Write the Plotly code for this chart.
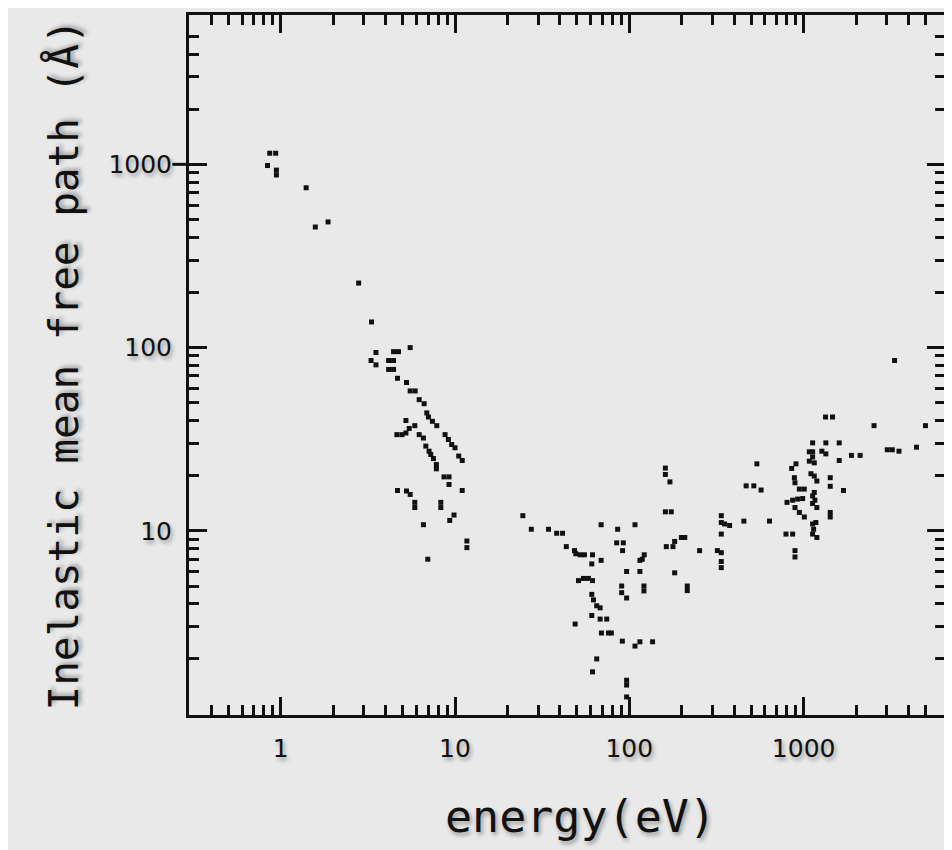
import plotly.graph_objects as go

# ---- data (energy in eV, IMFP in Angstrom) ----
energy_ev = [
    0.865, 0.936, 0.84, 0.945, 0.945, 1.40, 1.58, 1.87, 2.80, 3.32,
    3.52, 4.44, 4.74, 5.53, 3.30, 3.52, 4.16, 4.44, 4.16, 4.44,
    4.68, 5.27, 5.53, 5.91, 6.23, 6.65, 6.89, 7.04, 7.42, 7.86,
    5.23, 5.88, 5.46, 4.64, 4.96, 5.23, 6.23, 6.59, 6.80, 7.10,
    7.26, 7.52, 7.82, 7.82, 8.77, 9.16, 9.57, 10.0, 10.5, 11.0,
    8.65, 9.24, 9.24, 11.0, 4.68, 5.27, 5.53, 5.88, 5.88, 8.29,
    8.29, 9.87, 9.33, 6.59, 11.7, 11.7, 6.98,
    24.5, 27.4, 34.4, 38.3, 41.4, 43.5, 48.5, 49.3, 52.3, 55.3,
    61.5, 60.9, 68.9, 51.1, 54.6, 58.3, 61.5, 60.9, 62.3, 65.0,
    68.0, 60.9, 68.0, 74.2, 48.9, 69.2, 75.9, 78.9, 65.0, 61.5,
    96.5, 96.5, 96.5, 68.9, 85.7, 107.8, 84.6, 92.4, 91.5, 121.8,
    118.7, 115, 96.5, 115, 90.4, 90.4, 96.5, 121.3, 121.3, 91.2,
    107.8, 115, 136,
    161, 161, 171, 161, 174, 163, 178, 182, 199, 208, 182, 215, 215,
    1336, 1465, 2535, 5000, 3020, 3226, 3524, 4440, 1126, 1341, 1600,
    1078, 1126, 1126, 1151, 1078, 1272, 1341, 1600, 1881, 2109,
    539, 904, 854, 1101, 1151, 1191, 885, 892, 945, 1009,
    1421, 1421, 1693, 468, 518, 570, 1151, 1126, 1160, 1191,
    803, 865, 924, 987, 892, 945, 1009, 1126, 1421, 1421,
    337, 337, 352, 376, 454, 637, 1126, 1176, 1141, 1126, 1191,
    792, 865, 337, 253, 320, 337, 337, 337, 892, 892, 3325,
]

imfp_angstrom = [
    1150, 1150, 985, 930, 875, 745, 455, 485, 225, 138,
    94, 95, 95, 100, 85, 80.5, 85, 85, 76, 76,
    68, 64.5, 58, 58, 52, 49.4, 44, 41.8, 39.6, 37.5,
    40, 37.5, 36.2, 33.5, 33.5, 34.2, 33.5, 32.1, 29, 27.2,
    26.1, 24.8, 23, 21.8, 33.5, 31.5, 29.6, 28.4, 25.6, 24.2,
    19.7, 19.7, 17.9, 16.6, 16.6, 16.5, 15.8, 14.3, 13.4, 14.3,
    13.4, 12.2, 11.4, 10.8, 8.8, 8.1, 7.0,
    12.1, 10.2, 10.2, 9.7, 9.7, 8.2, 7.8, 7.5, 7.4, 7.4,
    7.4, 6.6, 6.9, 5.35, 5.5, 5.5, 5.35, 4.5, 4.2, 3.9,
    3.8, 3.45, 3.3, 3.3, 3.1, 2.77, 2.77, 2.77, 2.0, 1.7,
    1.53, 1.44, 1.24, 10.8, 10.2, 10.8, 8.6, 8.6, 7.8, 7.4,
    7.0, 6.9, 6.0, 6.0, 5.0, 4.6, 4.3, 5.0, 4.7, 2.5,
    2.35, 2.48, 2.48,
    22, 20.3, 18.5, 12.7, 12.7, 8.2, 8.2, 8.75, 9.2, 9.2, 5.9, 5.0, 4.72,
    41.8, 41.8, 37.5, 37.5, 27.7, 27.7, 27.2, 28.6, 30.2, 30.2, 30.2,
    27, 27, 25.3, 23.5, 24, 27.2, 26.3, 24.2, 25.8, 25.8,
    23.2, 23.2, 21.9, 20.5, 19.9, 18.7, 19.5, 18.3, 16.9, 16.9,
    19.5, 17.5, 16.6, 17.6, 17.6, 16.7, 16.2, 15.5, 14.7, 13.4,
    14.3, 14.7, 14.9, 15.0, 13.4, 12.6, 11.9, 14.1, 12.6, 11.9,
    12.1, 11.1, 10.9, 10.7, 11.3, 11.3, 10.9, 11.1, 10.2, 9.6, 9.2,
    9.6, 9.6, 9.6, 7.8, 7.8, 7.6, 6.8, 6.3, 7.8, 7.2, 85,
]

x_tick_vals = [1, 10, 100, 1000]
x_tick_text = ["1", "10", "100", "1000"]
y_tick_vals = [10, 100, 1000]
y_tick_text = ["10", "100", "1000"]

x_title = "energy(eV)"
y_title = "Inelastic mean free path (Å)"

# minor ticks: every digit of each decade
x_minor = [d * 10 ** e for e in range(-1, 4) for d in range(2, 10)]
x_minor = [v for v in x_minor if 0.35 <= v <= 5500]
y_minor = [d * 10 ** e for e in range(0, 4) for d in range(2, 10)]
y_minor = [v for v in y_minor if v <= 5500]

BG = "#e9e9e9"
INK = "#111111"
SHADOW = "2px 3px 4px rgba(0,0,0,0.35)"

fig = go.Figure()
fig.add_trace(go.Scatter(
    x=energy_ev, y=imfp_angstrom, mode="markers",
    marker=dict(symbol="square", size=5, color=INK, line=dict(width=0)),
    hoverinfo="x+y", showlegend=False,
))

axis_common = dict(
    type="log",
    showline=True, linecolor=INK, linewidth=3,
    mirror="allticks",
    ticks="inside", ticklen=18, tickwidth=3, tickcolor=INK,
    showgrid=False, zeroline=False,
    tickfont=dict(family="DejaVu Sans", size=25, color=INK, shadow=SHADOW),
    ticklabelstandoff=9,
)

fig.update_xaxes(
    **axis_common,
    range=[-0.526, 3.811],
    tickmode="array", tickvals=x_tick_vals, ticktext=x_tick_text,
    minor=dict(tickmode="array", tickvals=x_minor, ticks="inside",
               ticklen=10, tickwidth=3, tickcolor=INK, showgrid=False),
)
fig.update_yaxes(
    **axis_common,
    range=[-0.005, 3.815],
    tickmode="array", tickvals=y_tick_vals, ticktext=y_tick_text,
    minor=dict(tickmode="array", tickvals=y_minor, ticks="inside",
               ticklen=10, tickwidth=3, tickcolor=INK, showgrid=False),
)

# small outward dash at the 1000 tick on the left axis
fig.add_shape(type="line", xref="paper", yref="y",
              x0=-0.022, x1=0, y0=1000, y1=1000,
              line=dict(color=INK, width=3))

fig.add_annotation(
    text=x_title, xref="paper", yref="paper", x=0.518, y=-0.145,
    xanchor="center", yanchor="middle", showarrow=False,
    font=dict(family="DejaVu Sans Mono", size=45, color=INK, shadow=SHADOW),
)
fig.add_annotation(
    text=y_title, xref="paper", yref="paper", x=-0.166, y=0.50,
    xanchor="center", yanchor="middle", showarrow=False, textangle=-90,
    font=dict(family="DejaVu Sans Mono", size=41, color=INK, shadow=SHADOW),
)

# page body has an 8px margin, so the figure is sized to fill the rest
fig.update_layout(
    width=944, height=842,
    margin=dict(l=181, r=4, t=4, b=135),
    paper_bgcolor=BG, plot_bgcolor=BG,
    showlegend=False,
)

fig.write_html("out.html")
